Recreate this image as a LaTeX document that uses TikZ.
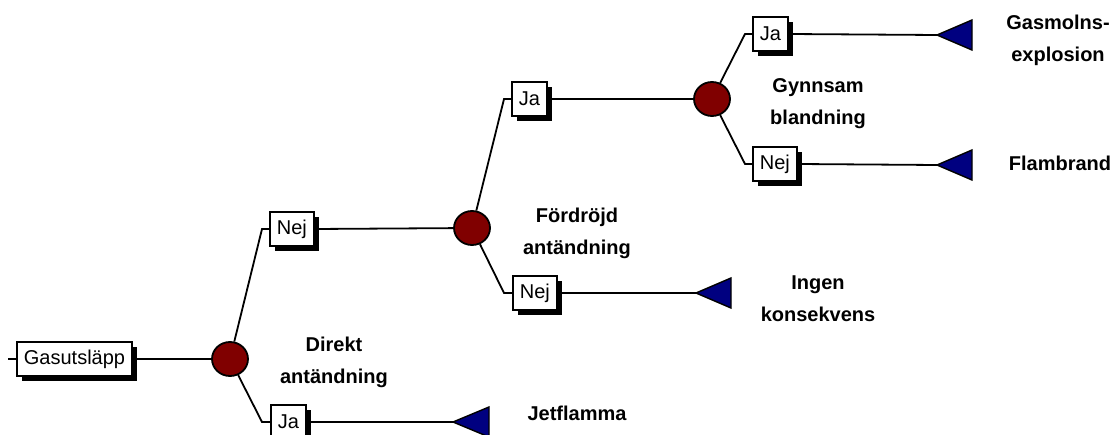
\documentclass[tikz,border=0pt]{standalone}
\usepackage{fontspec}
\setmainfont{Liberation Sans}
\usetikzlibrary{shadows,shapes.geometric}
\definecolor{nodered}{RGB}{128,0,0}
\definecolor{leafblue}{RGB}{0,0,128}
\begin{document}
\begin{tikzpicture}[x=1pt,y=-1pt, line width=1.8pt,
  chance/.style={ellipse, draw=black, fill=nodered, minimum width=36pt, minimum height=34pt, inner sep=0pt},
  branchbox/.style={draw=black, fill=white, font=\fontsize{20}{24}\selectfont, minimum height=34pt, inner xsep=7pt, inner ysep=0pt, anchor=west, drop shadow={shadow xshift=5pt, shadow yshift=-5pt, fill=black, opacity=1}},
  leaf/.style={draw=black, fill=leafblue, line width=1.4pt},
  lbl/.style={font=\bfseries\fontsize{20}{32}\selectfont, align=center}]
\clip (0,0) rectangle (1115,435);
% level 0
\coordinate (rootin) at (8,359);
\node[branchbox] (root) at (16,359) {Gasutsläpp};
\draw (rootin) -- (root.west);
\node[chance] (c1) at (230,359) {};
\draw (root.east) -- (c1);
% level 1
\coordinate (k1) at (262,229);
\node[branchbox] (nej1) at (269,229) {Nej};
\draw (c1) -- (k1) -- (nej1.west);
\coordinate (k2) at (262,422);
\node[branchbox] (ja1) at (270,422) {Ja};
\draw (c1) -- (k2) -- (ja1.west);
\coordinate (t1) at (453,422);
\draw (ja1.east) -- (t1);
\draw[leaf] (t1) -- ++(36,-15) -- ++(0,30) -- cycle;
% level 2
\node[chance] (c2) at (472,228) {};
\draw (nej1.east) -- (c2);
\coordinate (k3) at (504,99);
\node[branchbox] (ja2) at (511,99) {Ja};
\draw (c2) -- (k3) -- (ja2.west);
\coordinate (k4) at (504,293);
\node[branchbox] (nej2) at (512,293) {Nej};
\draw (c2) -- (k4) -- (nej2.west);
\coordinate (t2) at (696,293);
\draw (nej2.east) -- (t2);
\draw[leaf] (t2) -- ++(35,-15) -- ++(0,30) -- cycle;
% level 3
\node[chance] (c3) at (712,99) {};
\draw (ja2.east) -- (c3);
\coordinate (k5) at (745,34);
\node[branchbox] (ja3) at (752,34) {Ja};
\draw (c3) -- (k5) -- (ja3.west);
\coordinate (k6) at (745,164);
\node[branchbox] (nej3) at (752,164) {Nej};
\draw (c3) -- (k6) -- (nej3.west);
\coordinate (t3) at (937,35);
\draw (ja3.east) -- (t3);
\draw[leaf] (t3) -- ++(35,-15) -- ++(0,30) -- cycle;
\coordinate (t4) at (937,165);
\draw (nej3.east) -- (t4);
\draw[leaf] (t4) -- ++(35,-15) -- ++(0,30) -- cycle;
% labels
\node[lbl] (l1) at (334,362) {Direkt\\antändning};
\node[lbl] (l2) at (577,233) {Fördröjd\\antändning};
\node[lbl] (l3) at (818,104) {Gynnsam\\blandning};
\node[lbl] (l4) at (1058,40) {Gasmolns-\\explosion};
\node[lbl] (l5) at (1060,163) {Flambrand};
\node[lbl] (l6) at (818,299) {Ingen\\konsekvens};
\node[lbl] (l7) at (577,413) {Jetflamma};
\end{tikzpicture}
\end{document}
